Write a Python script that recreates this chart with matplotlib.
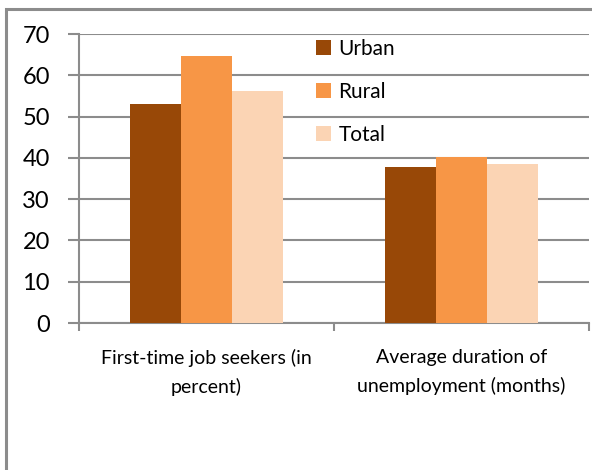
import numpy as np
import matplotlib.pyplot as plt
from matplotlib.patches import Rectangle

# Data
categories = ["First-time job seekers (in\npercent)", "Average duration of\nunemployment (months)"]
series_names = ["Urban", "Rural", "Total"]
urban = [53.0, 37.8]
rural = [64.7, 40.2]
total = [56.1, 38.4]
y_ticks = [0, 10, 20, 30, 40, 50, 60, 70]

colors = ["#984807", "#F79646", "#FBD4B4"]
grid_col = "#8C8C8C"

fig = plt.figure(figsize=(5.92, 4.70), dpi=100)
W, H = 592, 470

# outer chart frame (right/bottom edges fall outside the image)
fig.patches.append(Rectangle((6 / W, -0.05), 1.1, 1 - 9 / H + 0.05, transform=fig.transFigure,
                             fill=False, edgecolor=grid_col, linewidth=2.2))

ax = fig.add_axes([79 / W, 1 - 323 / H, (589 - 79) / W, (323 - 34) / H])
x = np.arange(len(categories))
w = 0.2
for i, (vals, name) in enumerate(zip([urban, rural, total], series_names)):
    ax.bar(x + (i - 1) * w, vals, width=w, color=colors[i], label=name, zorder=3)

ax.set_xlim(-0.5, 1.5)
ax.set_ylim(0, 70)
ax.set_yticks(y_ticks)
ax.yaxis.grid(True, color=grid_col, linewidth=1.5, zorder=0)
ax.tick_params(axis="y", length=8, width=1.5, color=grid_col, pad=13, labelsize=17)
for lab in ax.get_yticklabels():
    lab.set_family("Lato")

ax.set_xticks(x)
ax.set_xticklabels([])
ax.set_xticks([-0.5, 0.5, 1.5], minor=True)
ax.tick_params(axis="x", which="major", length=0)
ax.tick_params(axis="x", which="minor", length=6, width=1.5, color=grid_col)
for xi, cat in zip(x, categories):
    ax.text(xi, -6.2, cat, ha="center", va="top", fontsize=14, linespacing=1.75,
            family=["Liberation Sans Narrow", "Lato"], transform=ax.transData, clip_on=False)

for s in ["top", "right"]:
    ax.spines[s].set_visible(False)
for s in ["left", "bottom"]:
    ax.spines[s].set_color(grid_col)
    ax.spines[s].set_linewidth(1.5)

fig.legend(loc="upper left", bbox_to_anchor=(316 / W, 1 - 39 / H), frameon=False,
           prop={"family": "Lato", "size": 15}, handlelength=0.72, handleheight=0.72,
           handletextpad=0.35, labelspacing=1.1, borderpad=0, borderaxespad=0)

fig.savefig("out.png", dpi=100)
